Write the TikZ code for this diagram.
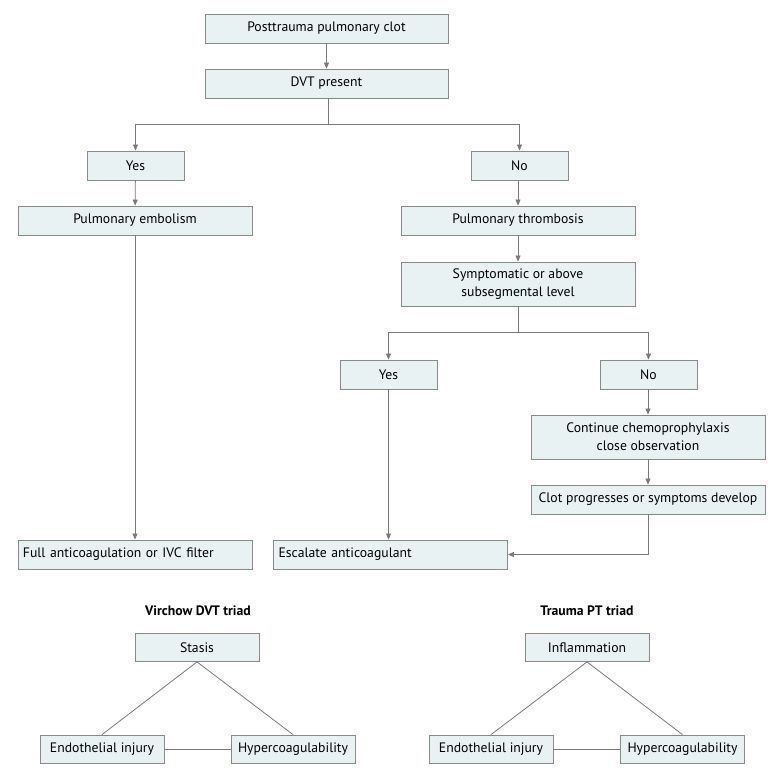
\documentclass[tikz,border=0pt]{standalone}
\usepackage{fontspec}
\setmainfont{PT Sans}
\usetikzlibrary{arrows.meta}
\definecolor{boxfill}{HTML}{E9F2F3}
\definecolor{boxline}{HTML}{8A8A8A}
\definecolor{conn}{HTML}{7A7A7A}
\begin{document}
\begin{tikzpicture}[x=1pt,y=-1pt,
  every node/.style={font=\fontsize{13.7}{18}\selectfont},
  bx/.style={draw=boxline,fill=boxfill,line width=0.8pt,minimum height=29pt,inner sep=2pt,align=center,text=black},
  wide/.style={bx,minimum width=234pt},
  narrow/.style={bx,minimum width=97pt},
  tri/.style={bx,minimum width=124pt,minimum height=28pt},
  arr/.style={draw=conn,line width=0.8pt,-{Triangle[length=6pt,width=5pt]}},
  ln/.style={draw=conn,line width=0.8pt},
  ttl/.style={font=\fontsize{13.7}{18}\selectfont\bfseries}]
\useasboundingbox (0,0) rectangle (780,775);
\node[bx,minimum width=243pt] (ptc) at (326.5,28.5) {Posttrauma pulmonary clot};
\node[bx,minimum width=243pt] (dvt) at (326.5,83.5) {DVT present};
\node[narrow] (yes1) at (135.5,165.5) {Yes};
\node[narrow] (no1) at (519.5,165.5) {No};
\node[wide] (pe) at (135,220.5) {Pulmonary embolism};
\node[wide] (pt) at (518,220.5) {Pulmonary thrombosis};
\node[wide,minimum height=44pt] (sym) at (518,284) {Symptomatic or above\\subsegmental level};
\node[narrow] (yes2) at (388.5,374.5) {Yes};
\node[narrow] (no2) at (648.5,374.5) {No};
\node[wide,minimum height=44pt] (cont) at (648,437) {Continue chemoprophylaxis\\close observation};
\node[wide] (clot) at (648,499.5) {Clot progresses or symptoms develop};
\node[wide,text width=224pt,align=left] (full) at (135,554.5) {Full anticoagulation or IVC filter};
\node[wide,text width=224pt,align=left] (esc) at (390.5,554.5) {Escalate anticoagulant};

\coordinate (b1) at (328,124);
\coordinate (b2) at (518,332);

\draw[arr] (ptc) -- (dvt);
\draw[ln] (dvt.south -| b1) -- (b1);
\draw[arr] (b1) -| (yes1.north);
\draw[arr] (b1) -| (no1.north);
\draw[arr] (yes1) -- (pe);
\draw[arr] (no1.south -| pt.north) -- (pt);
\draw[arr] (pt) -- (sym);
\draw[ln] (sym.south) -- (b2);
\draw[arr] (b2) -| (yes2.north);
\draw[arr] (b2) -| (no2.north);
\draw[arr] (no2.south -| cont.north) -- (cont);
\draw[arr] (cont) -- (clot);
\draw[arr] (pe) -- (full);
\draw[arr] (yes2.south) -- (yes2.south |- esc.north);
\draw[arr] (clot.south) |- (esc.east);

\node[ttl] (vt) at (198,611) {Virchow DVT triad};
\node[tri] (stasis) at (197,647.5) {Stasis};
\node[tri] (endo1) at (102,749) {Endothelial injury};
\node[tri] (hyp1) at (293,749) {Hypercoagulability};
\draw[ln] (stasis.south) -- (endo1.north);
\draw[ln] (stasis.south) -- (hyp1.north);
\draw[ln] (endo1) -- (hyp1);

\node[ttl] (tt) at (587,611) {Trauma PT triad};
\node[tri] (infl) at (587,647.5) {Inflammation};
\node[tri] (endo2) at (491,749) {Endothelial injury};
\node[tri] (hyp2) at (682.5,749) {Hypercoagulability};
\draw[ln] (infl.south) -- (endo2.north);
\draw[ln] (infl.south) -- (hyp2.north);
\draw[ln] (endo2) -- (hyp2);
\end{tikzpicture}
\end{document}
